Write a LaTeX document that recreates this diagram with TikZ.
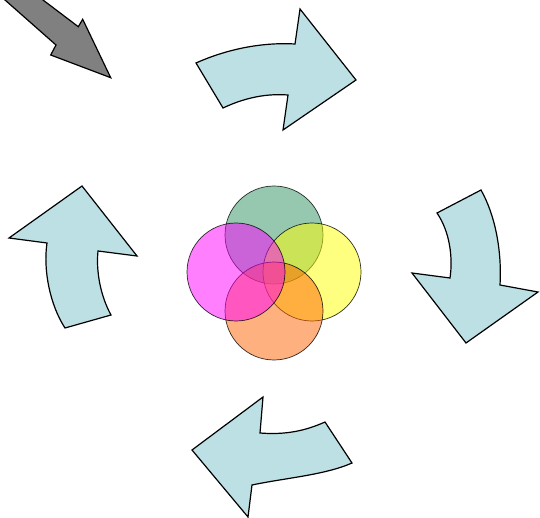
\documentclass[tikz,border=0pt]{standalone}
\definecolor{arrowblue}{RGB}{188,224,228}
\definecolor{vgreen}{RGB}{46,145,98}
\definecolor{vorange}{RGB}{255,97,0}
\definecolor{vyellow}{RGB}{255,255,0}
\definecolor{vmagenta}{RGB}{255,0,255}
\definecolor{vgray}{RGB}{128,128,128}
\tikzset{
  bluearrow/.style={fill=arrowblue, draw=black, line width=1.2pt, line join=miter},
  grayarrow/.style={fill=vgray, draw=black, line width=1.2pt, line join=miter},
  vcircle/.style={draw=black, line width=0.7pt, fill opacity=0.5, draw opacity=0.8}
}
\begin{document}
\begin{tikzpicture}[x=1pt,y=-1pt]
\useasboundingbox (0,0) rectangle (540,518);
\clip (0,0) rectangle (540,518);
% gray arrow
\draw[grayarrow] (110.7,77.7) -- (50.7,55) -- (56,45) -- (5,0) -- (-25,-26) -- (15,-22) -- (43,0) -- (78.3,26.7) -- (82.7,19.3) -- cycle;
% top arrow
\draw[bluearrow] (196,63) .. controls (225,50) and (260,42) .. (295,44) -- (300,9) -- (356,80) -- (283,130) -- (288,95) .. controls (262,93) and (240,100) .. (223,108) -- cycle;
% right arrow
\draw[bluearrow] (437,213) -- (481,190) .. controls (495,215) and (502,250) .. (500,285) -- (538,292) -- (466,343) -- (412,273) -- (450,278) .. controls (453,258) and (450,232) .. (437,213) -- cycle;
% bottom arrow
\draw[bluearrow] (325,422) -- (352,463) .. controls (325,475) and (285,478) .. (252,485) -- (248,517) -- (192,450) -- (263,397) -- (260,433) .. controls (285,435) and (305,431) .. (325,422) -- cycle;
% left arrow
\draw[bluearrow] (65,328) -- (111,315) .. controls (100,295) and (96,270) .. (98,251) -- (137,256) -- (82,186) -- (9,238) -- (47,243) .. controls (43,270) and (50,305) .. (65,328) -- cycle;
% circles
\draw[vcircle, fill=vgreen] (274,235) circle (49);
\draw[vcircle, fill=vyellow] (312,272) circle (49);
\draw[vcircle, fill=vorange] (274,311) circle (49);
\draw[vcircle, fill=vmagenta] (236,272) circle (49);
\end{tikzpicture}
\end{document}
